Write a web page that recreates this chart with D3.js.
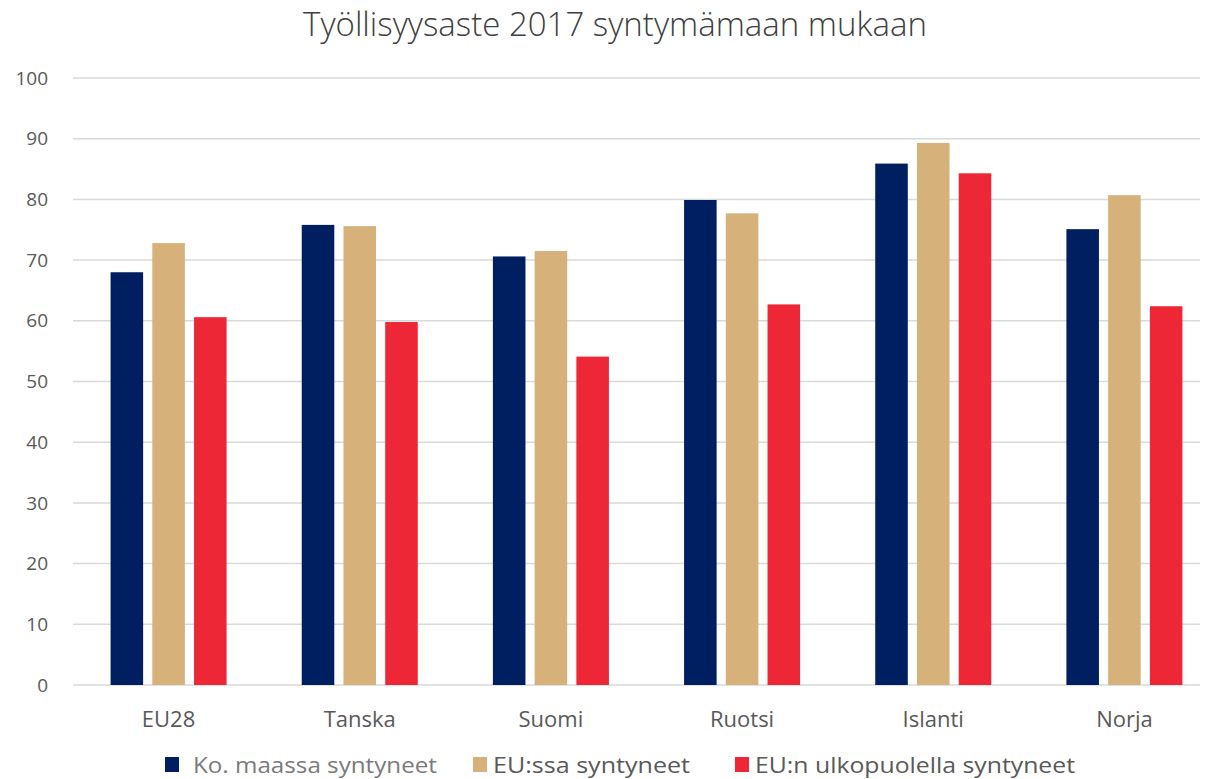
<!DOCTYPE html>
<html>
<head>
<meta charset="utf-8">
<script src="https://cdn.jsdelivr.net/npm/d3@7"></script>
<style>
  body { margin: 0; background: #fff; }
  text { font-family: "Open Sans", Lato, sans-serif; }
</style>
</head>
<body>
<div id="chart"></div>
<script>
// data
var countries = ["EU28", "Tanska", "Suomi", "Ruotsi", "Islanti", "Norja"];
var seriesNames = ["Ko. maassa syntyneet", "EU:ssa syntyneet", "EU:n ulkopuolella syntyneet"];
var bornInCountry = [68.0, 75.8, 70.6, 79.9, 85.9, 75.1];
var bornInEU = [72.8, 75.6, 71.5, 77.7, 89.3, 80.7];
var bornOutsideEU = [60.6, 59.8, 54.1, 62.7, 84.3, 62.4];
var yTicks = [0, 10, 20, 30, 40, 50, 60, 70, 80, 90, 100];
var colors = ["#001f60", "#d6b27a", "#ee2737"];

var W = 1205, H = 779;
// plot area runs a bit past the right edge of the picture
var margin = {top: 78, left: 73},
    width = 1147,
    height = H - margin.top - 94;

var svg = d3.select("#chart").append("svg")
    .attr("width", W)
    .attr("height", H);

var g = svg.append("g")
    .attr("transform", "translate(" + margin.left + "," + margin.top + ")");

var x0 = d3.scaleBand().domain(countries).range([0, width]).padding(0);
var x1 = d3.scaleBand().domain(seriesNames).range([0, x0.bandwidth()])
    .paddingInner(0.22).paddingOuter(0.9);
var y = d3.scaleLinear().domain([0, 100]).range([height, 0]);

// title
svg.append("text")
    .attr("x", 615)
    .attr("y", 36)
    .attr("text-anchor", "middle")
    .style("font-size", "33px")
    .style("font-weight", "300")
    .style("fill", "#404040")
    .text("Työllisyysaste 2017 syntymämaan mukaan");

// gridlines
g.selectAll(".grid")
    .data(yTicks)
    .enter().append("line")
    .attr("class", "grid")
    .attr("x1", 0)
    .attr("x2", W - margin.left - 5)
    .attr("y1", function(d) { return y(d); })
    .attr("y2", function(d) { return y(d); })
    .attr("stroke", "#d9d9d9")
    .attr("stroke-width", 1.5);

// y labels
g.selectAll(".ylab")
    .data(yTicks)
    .enter().append("text")
    .attr("class", "ylab")
    .attr("x", -25)
    .attr("y", function(d) { return y(d); })
    .attr("dy", "0.35em")
    .attr("text-anchor", "end")
    .style("font-size", "19px")
    .style("fill", "#595959")
    .text(function(d) { return d; });

// bars
var table = countries.map(function(c, i) {
    return {country: c, values: [bornInCountry[i], bornInEU[i], bornOutsideEU[i]]};
});

var groups = g.selectAll(".group")
    .data(table)
    .enter().append("g")
    .attr("class", "group")
    .attr("transform", function(d) { return "translate(" + x0(d.country) + ",0)"; });

groups.selectAll("rect")
    .data(function(d) {
        return d.values.map(function(v, j) { return {key: seriesNames[j], value: v, idx: j}; });
    })
    .enter().append("rect")
    .attr("x", function(d) { return x1(d.key); })
    .attr("width", x1.bandwidth())
    .attr("y", function(d) { return y(d.value); })
    .attr("height", function(d) { return height - y(d.value); })
    .attr("fill", function(d) { return colors[d.idx]; });

// x labels
g.selectAll(".xlab")
    .data(countries)
    .enter().append("text")
    .attr("class", "xlab")
    .attr("x", function(d) { return x0(d) + x0.bandwidth() / 2; })
    .attr("y", height + 42)
    .attr("text-anchor", "middle")
    .style("font-size", "22px")
    .style("fill", "#595959")
    .text(function(d) { return d; });

// legend
var legendX = [165, 473, 735];
var legendTextW = [244, 197, 320];
var legend = svg.selectAll(".legend")
    .data(seriesNames)
    .enter().append("g")
    .attr("class", "legend")
    .attr("transform", function(d, i) { return "translate(" + legendX[i] + ",757)"; });

legend.append("rect")
    .attr("width", 14)
    .attr("height", 15)
    .attr("fill", function(d, i) { return colors[i]; });

legend.append("text")
    .attr("x", function(d, i) { return i == 0 ? 28 : 20; })
    .attr("y", 8)
    .attr("dy", "0.35em")
    .attr("textLength", function(d, i) { return legendTextW[i]; })
    .attr("lengthAdjust", "spacingAndGlyphs")
    .style("font-size", "22px")
    .style("fill", function(d, i) { return i == 0 ? "#7a7a7a" : "#595959"; })
    .text(function(d) { return d; });
</script>
</body>
</html>
